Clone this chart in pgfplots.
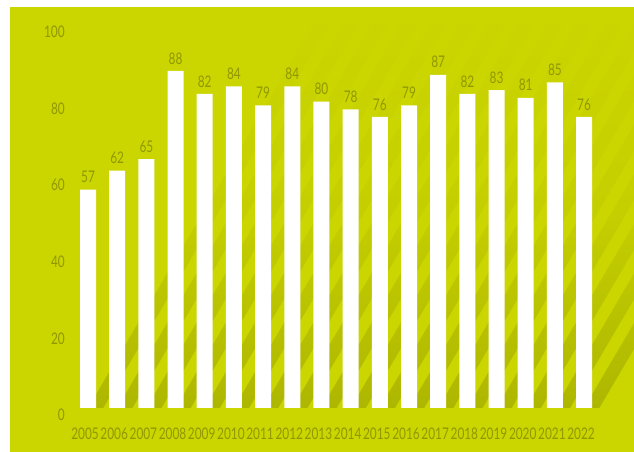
\documentclass[border=0pt]{standalone}
\usepackage{pgfplots}
\pgfplotsset{compat=1.18}
\usepackage{fontspec}
\setmainfont{Lato}[FakeStretch=0.74]

\definecolor{bg}{RGB}{203,213,0}
\definecolor{stripe}{RGB}{174,183,0}
\definecolor{txt}{RGB}{145,152,0}

\begin{document}
\begin{tikzpicture}
\begin{axis}[
    scale only axis,
    width=468pt, height=333.75pt,
    xmin=-2.673, xmax=18.71,
    ymin=-11.49, ymax=104.7,
    axis background/.style={fill=bg},
    axis line style={draw=none},
    tick style={draw=none},
    /pgf/number format/assume math mode=true,
    ytick={0,20,...,100},
    xtick={0,...,17},
    xticklabels={2005,2006,2007,2008,2009,2010,2011,2012,2013,2014,2015,2016,2017,2018,2019,2020,2021,2022},
    tick label style={text=txt, font=\fontsize{12}{14}\selectfont},
    yticklabel style={anchor=east, inner sep=0pt, xshift=41.25pt, yshift=-5.25pt},
    xticklabel style={anchor=center, inner sep=0pt, xshift=-2.25pt, yshift=18pt},
    ybar, bar width=0.548,
    nodes near coords,
    nodes near coords style={text=txt, font=\fontsize{12}{14}\selectfont, yshift=1.5pt},
]
% diagonal shadow stripes, fading upwards
\shade[bottom color=stripe, top color=bg, middle color=bg!80!stripe]
  \foreach \k in {0,...,17} {
    (axis cs:\k,0) -- (axis cs:\k+0.52,0) -- (axis cs:\k+8.63,105) -- (axis cs:\k+8.11,105) -- cycle
  };
\addplot[fill=white, draw=none] coordinates {
    (0,57) (1,62) (2,65) (3,88) (4,82) (5,84) (6,79) (7,84) (8,80)
    (9,78) (10,76) (11,79) (12,87) (13,82) (14,83) (15,81) (16,85) (17,76)
};
\coordinate (SW) at (rel axis cs:0,0);
\coordinate (NE) at (rel axis cs:1,1);
\end{axis}
\fill[white] ([xshift=-7.5pt]SW) rectangle ([yshift=5.25pt]SW |- NE);
\fill[white] ([xshift=-7.5pt]SW |- NE) rectangle ([yshift=5.25pt]NE);
\pgfresetboundingbox
\path[use as bounding box] ([xshift=-7.5pt]SW) rectangle ([yshift=5.25pt]NE);
\end{tikzpicture}
\end{document}
